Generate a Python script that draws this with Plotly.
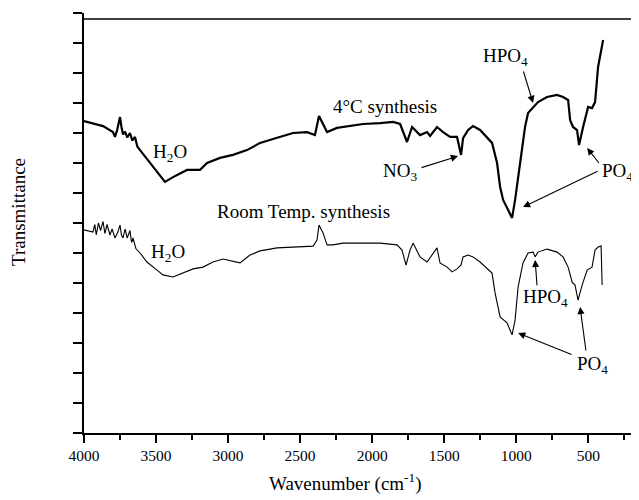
import plotly.graph_objects as go

# ---- data (wavenumber in cm^-1, transmittance in arbitrary units) ----
wn_4c = [4000, 3938, 3868, 3799, 3785, 3770, 3750, 3740, 3729, 3715, 3700, 3681, 3665, 3646, 3630,
         3611, 3542, 3472, 3438, 3382, 3285, 3195, 3146, 3056, 2966, 2869, 2778, 2688, 2549,
         2452, 2397, 2369, 2341, 2313, 2244, 2153, 2063, 1945, 1855, 1806, 1758, 1723, 1688,
         1668, 1619, 1598, 1550, 1508, 1459, 1411, 1383, 1369, 1334, 1300, 1251, 1203, 1168,
         1133, 1112, 1091, 1057, 1029, 1008, 973, 939, 918, 883, 849, 786, 717, 675, 640, 626,
         606, 578, 564, 536, 501, 474, 453, 432, 397]
t_4c = [10.40, 10.33, 10.23, 10.03, 9.87, 10.10, 10.53, 10.20, 9.95, 10.05, 9.85, 10.00, 9.75, 9.87, 9.55,
        9.43, 9.00, 8.60, 8.37, 8.53, 8.77, 8.77, 9.00, 9.17, 9.27, 9.43, 9.67, 9.80, 10.00,
        10.03, 9.93, 10.57, 10.27, 10.03, 10.17, 10.23, 10.30, 10.33, 10.37, 10.30, 9.70, 10.20, 10.03,
        9.93, 10.03, 9.90, 10.20, 10.03, 9.87, 9.87, 9.27, 9.83, 10.10, 10.23, 10.10, 9.87, 9.67,
        9.00, 8.20, 7.77, 7.43, 7.17, 7.77, 9.10, 10.20, 10.67, 10.87, 11.03, 11.20, 11.27, 11.20, 11.10, 10.43,
        10.20, 10.10, 9.60, 10.20, 10.87, 10.83, 11.03, 12.20, 13.10]

wn_rt = [4000, 3960, 3938, 3925, 3915, 3900, 3885, 3868, 3855, 3840, 3820, 3805, 3785, 3765, 3750,
         3740, 3729, 3715, 3700, 3681, 3670, 3660, 3640, 3611, 3563, 3493, 3452, 3382, 3313, 3243,
         3174, 3105, 3035, 2966, 2917, 2848, 2778, 2660, 2549, 2410, 2383, 2369, 2341, 2313, 2272,
         2202, 2063, 1945, 1827, 1793, 1765, 1737, 1716, 1668, 1619, 1577, 1550, 1529, 1480, 1445,
         1411, 1383, 1369, 1334, 1300, 1251, 1203, 1168, 1147, 1112, 1064, 1029, 1008, 987, 953,
         918, 883, 869, 849, 786, 717, 675, 640, 612, 592, 571, 543, 508, 474, 453, 432, 411, 404]
t_rt = [6.77, 6.72, 6.70, 6.95, 6.60, 7.00, 6.75, 7.05, 6.65, 6.95, 6.60, 6.80, 6.50, 6.70, 6.93,
        6.60, 6.50, 6.80, 6.50, 6.75, 6.35, 6.50, 6.15, 6.00, 5.70, 5.43, 5.27, 5.20, 5.33, 5.47,
        5.53, 5.70, 5.80, 5.73, 5.67, 5.93, 6.07, 6.17, 6.20, 6.23, 6.43, 6.93, 6.67, 6.27, 6.27,
        6.33, 6.33, 6.33, 6.27, 6.10, 5.60, 6.10, 6.33, 5.87, 5.70, 6.00, 6.17, 5.67, 5.53, 5.37,
        5.47, 5.60, 5.87, 5.93, 5.87, 5.70, 5.50, 5.33, 4.67, 3.87, 3.67, 3.27, 3.77, 4.87, 5.67,
        6.00, 6.03, 5.87, 6.03, 6.13, 6.03, 5.87, 5.53, 5.03, 4.93, 4.43, 4.93, 5.43, 5.53, 6.10, 6.20, 6.23, 4.93]

x_ticks = [4000, 3500, 3000, 2500, 2000, 1500, 1000, 500]
x_minor = [3750, 3250, 2750, 2250, 1750, 1250, 750, 250]
x_range = [4000, 148]
y_range = [0, 14]

FONT = "Liberation Serif, Times New Roman, serif"

# page offset (browser body margin) is 8px; plot area spans x 84..639, y 13..433 in the page
OFF = 8
L, T, B_AX = 84 - OFF, 13 - OFF, 433 - OFF
W, H = 639 - OFF, 500 - OFF
PW, PH = W - L, B_AX - T

fig = go.Figure()
fig.add_trace(go.Scatter(x=wn_4c, y=t_4c, mode="lines", line=dict(color="black", width=2.2),
                         showlegend=False, hoverinfo="skip"))
fig.add_trace(go.Scatter(x=wn_rt, y=t_rt, mode="lines", line=dict(color="black", width=1.1),
                         showlegend=False, hoverinfo="skip"))

# text labels
labels = [
    ("H<sub>2</sub>O", 3403, 9.33),
    ("4°C synthesis", 1911, 10.9),
    ("HPO<sub>4</sub>", 1078, 12.53),
    ("NO<sub>3</sub>", 1806, 8.7),
    ("PO<sub>4</sub>", 300, 8.7),
    ("Room Temp. synthesis", 2480, 7.4),
    ("H<sub>2</sub>O", 3417, 6.0),
    ("HPO<sub>4</sub>", 800, 4.5),
    ("PO<sub>4</sub>", 474, 2.27),
]
for txt, x, y in labels:
    fig.add_annotation(x=x, y=y, xref="x", yref="y", text=txt, showarrow=False,
                       xanchor="center", yanchor="middle",
                       font=dict(family=FONT, size=19, color="black"))

# arrows: (head_x, head_y, tail_x, tail_y)
arrows = [
    (883, 11.0, 953, 12.1),
    (1404, 9.23, 1668, 8.83),
    (508, 9.5, 418, 8.95),
    (953, 7.53, 425, 8.75),
    (869, 5.77, 855, 4.87),
    (987, 3.33, 606, 2.6),
    (557, 4.2, 515, 2.7),
]
for hx, hy, tx, ty in arrows:
    fig.add_annotation(x=hx, y=hy, ax=tx, ay=ty, xref="x", yref="y", axref="x", ayref="y",
                       text="", showarrow=True, arrowhead=2, arrowsize=1.3, arrowwidth=1.1,
                       arrowcolor="black")

# axis titles
fig.add_annotation(x=(345 - 84) / PW, y=-(482 - 433) / PH, xref="paper", yref="paper",
                   text="Wavenumber (cm<sup>-1</sup>)", showarrow=False,
                   xanchor="center", yanchor="middle",
                   font=dict(family=FONT, size=19, color="black"))
fig.add_annotation(x=-(84 - 18) / PW, y=(433 - 212) / PH, xref="paper", yref="paper",
                   text="Transmittance", textangle=-90, showarrow=False,
                   xanchor="center", yanchor="middle",
                   font=dict(family=FONT, size=19, color="black"))

# top frame line
fig.add_shape(type="line", xref="paper", yref="paper", x0=0, x1=1,
              y0=(433 - 19) / PH, y1=(433 - 19) / PH, line=dict(color="black", width=1.5))

fig.update_xaxes(range=x_range, tickmode="array", tickvals=x_ticks,
                 ticktext=[str(v) for v in x_ticks], ticks="outside", ticklen=8, tickwidth=1.5,
                 tickcolor="black", showline=True, linecolor="black", linewidth=1.5,
                 showgrid=False, zeroline=False,
                 tickfont=dict(family=FONT, size=15.5, color="black"),
                 minor=dict(ticks="outside", tickvals=x_minor,
                            ticklen=5, tickwidth=1.5, tickcolor="black", showgrid=False))
fig.update_yaxes(range=y_range, dtick=1, tick0=0, ticks="outside", ticklen=9, tickwidth=1.5,
                 tickcolor="black", showticklabels=False, showline=True, linecolor="black",
                 linewidth=1.5, showgrid=False, zeroline=False)

fig.update_layout(width=W, height=H, margin=dict(l=L, r=0, t=T, b=H - B_AX),
                  paper_bgcolor="white", plot_bgcolor="white",
                  font=dict(family=FONT, color="black"))

fig.write_html("out.html")
